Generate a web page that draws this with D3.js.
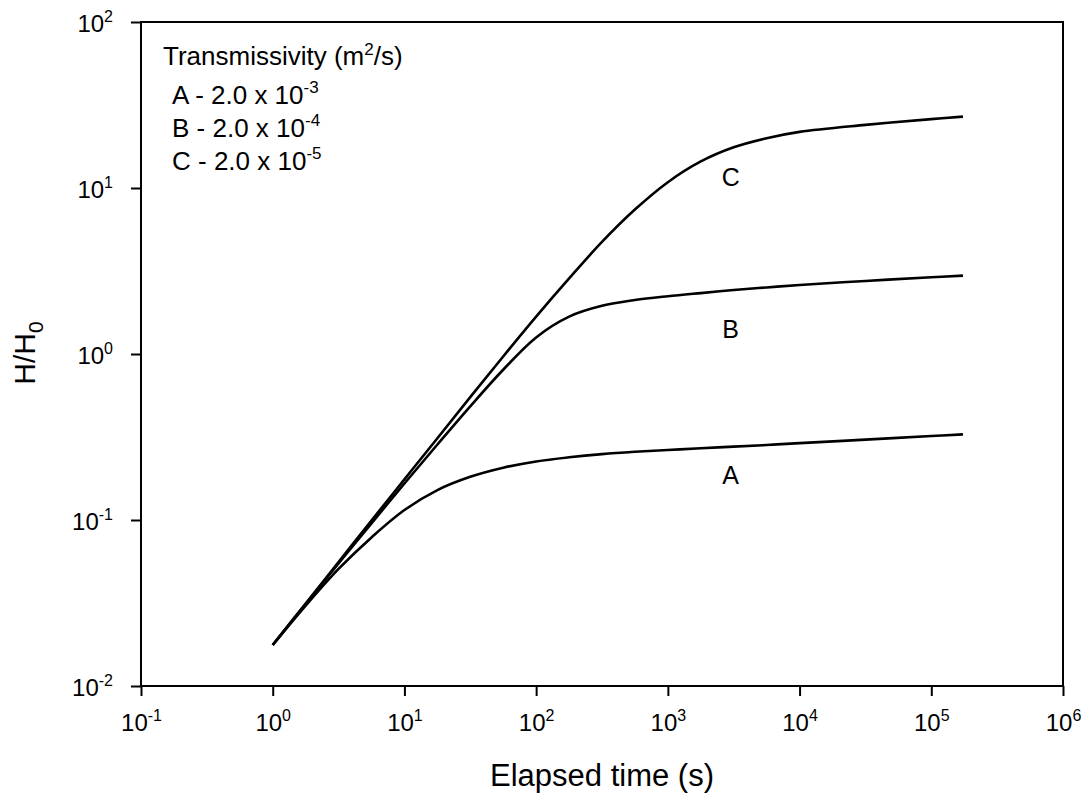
<!DOCTYPE html>
<html>
<head>
<meta charset="utf-8">
<script src="https://cdn.jsdelivr.net/npm/d3@7"></script>
<style>
  body { margin: 0; background: #fff; }
  svg { font-family: "Liberation Sans", Arial, sans-serif; }
</style>
</head>
<body>
<svg width="1091" height="800"></svg>
<script>
// elapsed time (s), shared by all three curves
const time = [1, 1.78, 3.16, 5.62, 10, 17.8, 31.6, 56.2, 100, 178, 316, 562,
  1000, 1780, 3160, 5620, 10000, 31600, 100000, 174000];

// H/H0 for each transmissivity
const curveA = [0.01766, 0.0305, 0.0507, 0.0785, 0.1148, 0.1514, 0.182, 0.2065,
  0.2254, 0.2388, 0.2495, 0.2576, 0.2642, 0.2704, 0.2767, 0.2831, 0.2904,
  0.3048, 0.3206, 0.3281];
const curveB = [0.01766, 0.03126, 0.0547, 0.0955, 0.166, 0.285, 0.484, 0.804,
  1.259, 1.679, 1.950, 2.113, 2.228, 2.328, 2.427, 2.518, 2.606, 2.754,
  2.897, 2.965];
const curveC = [0.01766, 0.0314, 0.0558, 0.0993, 0.1758, 0.311, 0.5495, 0.966,
  1.679, 2.851, 4.732, 7.413, 10.84, 14.45, 17.58, 19.95, 21.78, 23.99,
  26.0, 26.92];

const seriesNames = ["A", "B", "C"];
// where the curve letters sit (time, H/H0)
const labelTime = [3000, 3000, 3000];
const labelValue = [0.187, 1.41, 11.6];

// legend
const legendTitle = "Transmissivity (m";
const legendRows = [
  { text: "A - 2.0 x 10", exp: "-3" },
  { text: "B - 2.0 x 10", exp: "-4" },
  { text: "C - 2.0 x 10", exp: "-5" }
];

// tick exponents
const xExponents = [-1, 0, 1, 2, 3, 4, 5, 6];
const yExponents = [-2, -1, 0, 1, 2];

const margin = { top: 22, right: 28, bottom: 114, left: 141 };
const width = 1091 - margin.left - margin.right;
const height = 800 - margin.top - margin.bottom;

const svg = d3.select("svg");
const g = svg.append("g").attr("transform", `translate(${margin.left},${margin.top})`);

const x = d3.scaleLog().domain([0.1, 1e6]).range([0, width]);
const y = d3.scaleLog().domain([0.01, 100]).range([height, 0]);

// "10" with a raised exponent
function powerLabel(sel) {
  sel.each(function(d) {
    const t = d3.select(this);
    t.text("10");
    t.append("tspan").attr("dy", -10).attr("font-size", 16)
      .text(String(Math.round(Math.log10(d))));
  });
}

// x axis
const xAxis = g.append("g")
  .attr("transform", `translate(0,${height})`)
  .call(d3.axisBottom(x)
    .tickValues(xExponents.map(e => Math.pow(10, e)))
    .tickSize(10).tickSizeOuter(0)
    .tickFormat(""));
xAxis.attr("font-family", null);
xAxis.select(".domain").remove();
xAxis.selectAll(".tick line").attr("stroke", "#000").attr("stroke-width", 2);
xAxis.selectAll(".tick text")
  .attr("font-size", 24).attr("fill", "#000")
  .attr("y", 45).attr("dy", 0)
  .call(powerLabel);

// y axis
const yAxis = g.append("g")
  .call(d3.axisLeft(y)
    .tickValues(yExponents.map(e => Math.pow(10, e)))
    .tickSize(10).tickSizeOuter(0)
    .tickFormat(""));
yAxis.attr("font-family", null);
yAxis.select(".domain").remove();
yAxis.selectAll(".tick line").attr("stroke", "#000").attr("stroke-width", 2);
yAxis.selectAll(".tick text")
  .attr("font-size", 24).attr("fill", "#000")
  .attr("x", -28).attr("dy", 9)
  .call(powerLabel);

// frame
g.append("rect")
  .attr("width", width).attr("height", height)
  .attr("fill", "none").attr("stroke", "#000").attr("stroke-width", 2);

// curves
const line = d3.line()
  .x(d => x(d[0]))
  .y(d => y(d[1]))
  .curve(d3.curveCatmullRom.alpha(0.5));

[curveA, curveB, curveC].forEach(vals => {
  g.append("path")
    .datum(time.map((t, i) => [t, vals[i]]))
    .attr("d", line)
    .attr("fill", "none")
    .attr("stroke", "#000")
    .attr("stroke-width", 2.6);
});

// curve letters
seriesNames.forEach((name, i) => {
  g.append("text")
    .attr("x", x(labelTime[i]))
    .attr("y", y(labelValue[i]))
    .attr("text-anchor", "middle")
    .attr("dominant-baseline", "central")
    .attr("font-size", 25)
    .text(name);
});

// legend
const legend = g.append("g").attr("font-size", 26);
const title = legend.append("text").attr("x", 22).attr("y", 43);
title.append("tspan").text(legendTitle);
title.append("tspan").attr("dy", -10).attr("font-size", 17).text("2");
title.append("tspan").attr("dy", 10).text("/s)");

legendRows.forEach((row, i) => {
  const t = legend.append("text").attr("x", 31).attr("y", 82 + i * 33);
  t.append("tspan").text(row.text);
  t.append("tspan").attr("dy", -11).attr("font-size", 17).text(row.exp);
});

// axis titles
svg.append("text")
  .attr("x", margin.left + width / 2)
  .attr("y", 786)
  .attr("text-anchor", "middle")
  .attr("font-size", 31)
  .text("Elapsed time (s)");

const yTitle = svg.append("text")
  .attr("transform", "translate(35,353) rotate(-90)")
  .attr("text-anchor", "middle")
  .attr("font-size", 30);
yTitle.append("tspan").text("H/H");
yTitle.append("tspan").attr("dy", 8).attr("font-size", 21).text("0");
</script>
</body>
</html>
